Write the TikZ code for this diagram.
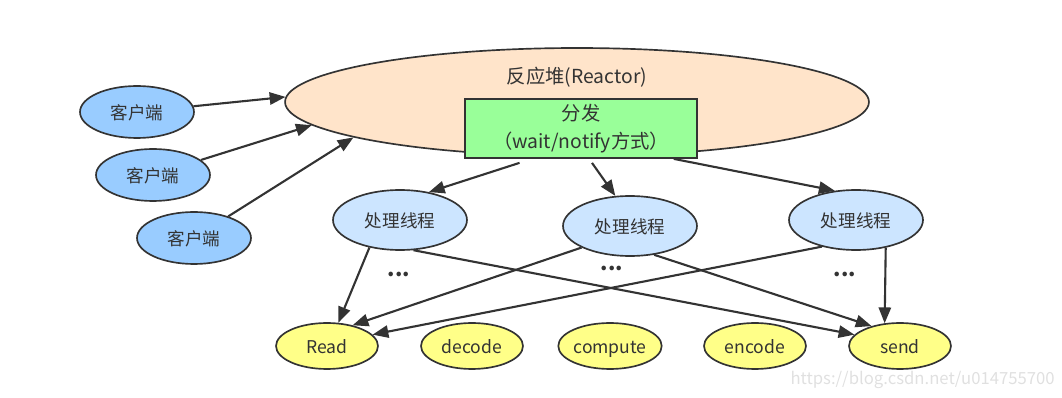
\documentclass[tikz,border=0pt]{standalone}
\usepackage{fontspec}
\setmainfont{Noto Sans CJK SC}
\usetikzlibrary{shapes.geometric,arrows.meta,calc}
\definecolor{peach}{RGB}{255,228,202}
\definecolor{clientblue}{RGB}{153,204,255}
\definecolor{threadblue}{RGB}{204,229,255}
\definecolor{boxgreen}{RGB}{153,255,153}
\definecolor{taskyellow}{RGB}{255,255,136}
\definecolor{ink}{RGB}{51,51,51}
\begin{document}
\begin{tikzpicture}[x=0.02cm,y=-0.02cm,
  every node/.style={font=\fontsize{10}{12}\selectfont, text=ink, inner sep=0pt},
  ell/.style={ellipse, draw=ink, line width=0.95pt, text height=0.9em, text depth=0.1em},
  reactorbox/.style={ell, fill=peach, minimum width=11.68cm, minimum height=2.16cm},
  client/.style={ell, fill=clientblue, minimum width=2.28cm, minimum height=1.04cm},
  worker/.style={ell, fill=threadblue, minimum width=2.68cm, minimum height=1.2cm},
  task/.style={ell, fill=taskyellow, minimum width=2.04cm, minimum height=0.92cm},
  dispatchbox/.style={rectangle, draw=ink, line width=1pt, fill=boxgreen, minimum width=4.64cm, minimum height=1.18cm, align=center, font=\fontsize{11}{15.5}\selectfont},
  arr/.style={draw=ink, line width=1.2pt, -{Triangle[length=9pt,width=7pt]}},
  dots/.style={font=\fontsize{12}{12}\selectfont\bfseries}
]
\useasboundingbox (0,0) rectangle (1062,398);

% reactor
\node[reactorbox] (reactor) at (577,102) {};
\node[font=\fontsize{11}{12}\selectfont] (title) at (577,77) {反应堆(Reactor)};
\node[dispatchbox] (box) at (581,128.5) {分发\\（wait/notify方式）};

% clients
\node[client] (c1) at (137,112) {客户端};
\node[client] (c2) at (153,175) {客户端};
\node[client] (c3) at (194,238) {客户端};

% workers
\node[worker] (t1) at (400,220) {处理线程};
\node[worker] (t2) at (630,226) {处理线程};
\node[worker] (t3) at (856,220) {处理线程};

% tasks
\node[task] (read) at (327,346) {Read};
\node[task] (decode) at (472,346) {decode};
\node[task] (compute) at (610,346) {compute};
\node[task] (encode) at (755,346) {encode};
\node[task] (send) at (900,346) {send};

% dots
\node[dots] (d1) at (399,274) {...};
\node[dots] (d2) at (612,268) {...};
\node[dots] (d3) at (845,274) {...};

% watermark
\node[font=\fontsize{9.5}{11}\selectfont, text=black!12, anchor=east] (wm) at (1055,380) {https://blog.csdn.net/u014755700};

% client arrows
\draw[arr] (c1) -- (reactor.179);
\draw[arr] (c2) -- (reactor.185);
\draw[arr] (c3) -- (reactor.189);

% dispatch arrows
\coordinate (s1) at ($(box.south west)!0.237!(box.south east)+(0,4)$);
\coordinate (s2) at ($(box.south west)!0.547!(box.south east)+(0,4)$);
\coordinate (s3) at ($(box.south west)!0.897!(box.south east)$);
\draw[arr] (s1) -- (t1.44);
\draw[arr] (s2) -- (t2.116);
\draw[arr] (s3) -- (t3.126);

% worker to task arrows
\draw[arr] (t1.222) -- (read.64);
\draw[arr] (t1.294) -- (send.166);
\draw[arr] (t2.204) -- (read.39);
\draw[arr] (t2.310) -- (send.145);
\draw[arr] (t3.218) -- (read.14);
\draw[arr] (t3.317) -- (send.124);
\end{tikzpicture}
\end{document}
